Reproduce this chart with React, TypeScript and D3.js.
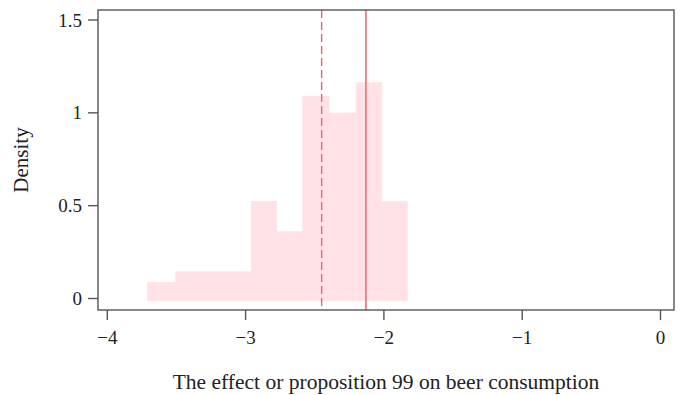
import React from "react";
import * as d3 from "d3";

const binEdges = [-3.71, -3.505, -3.32, -3.14, -2.96, -2.775, -2.587, -2.397, -2.202, -2.016, -1.831];
const densities = [0.087, 0.144, 0.144, 0.144, 0.523, 0.36, 1.09, 0.999, 1.162, 0.523];
const xTicks = [-4, -3, -2, -1, 0];
const yTicks = [0, 0.5, 1, 1.5];
const yTickLabels = ["0", "0.5", "1", "1.5"];
const meanEffect = -2.45;
const pointEffect = -2.13;
const xTitle = "The effect or proposition 99 on beer consumption";
const yTitle = "Density";

const W = 685;
const H = 395;
const frame = { left: 98, right: 674, top: 10, bottom: 310 };
const font = "'Liberation Serif', 'Times New Roman', serif";

export default function App() {
  const x = d3.scaleLinear().domain([-4, 0]).range([107.3, 660.5]);
  const y = d3.scaleLinear().domain([0, 1.5]).range([298.5, 20]);
  const fmtX = (v: number) => (v < 0 ? "\u2212" + Math.abs(v) : String(v));

  return (
    <svg
      width={W}
      height={H}
      style={{ position: "absolute", left: 0, top: 0, background: "#fff" }}
    >
      <rect x={0} y={0} width={W} height={H} fill="#fff" />
      {densities.map((d, i) => (
        <rect
          key={i}
          x={x(binEdges[i])}
          y={y(d)}
          width={x(binEdges[i + 1]) - x(binEdges[i])}
          height={y(0) - y(d) + 2.3}
          fill="#ffe1e6"
          stroke="#ffe1e6"
          strokeWidth={0.6}
        />
      ))}
      <line
        x1={x(meanEffect)}
        x2={x(meanEffect)}
        y1={frame.top}
        y2={frame.bottom}
        stroke="#e8646c"
        strokeWidth={1.4}
        strokeDasharray="8 4"
      />
      <line
        x1={x(pointEffect)}
        x2={x(pointEffect)}
        y1={frame.top}
        y2={frame.bottom}
        stroke="#f27a82"
        strokeWidth={1.8}
      />
      <rect
        x={frame.left}
        y={frame.top}
        width={frame.right - frame.left}
        height={frame.bottom - frame.top}
        fill="none"
        stroke="#555"
        strokeWidth={1.4}
      />
      {yTicks.map((t, i) => (
        <g key={"y" + i}>
          <line x1={frame.left - 10} x2={frame.left} y1={y(t)} y2={y(t)} stroke="#555" strokeWidth={1.4} />
          <text
            x={frame.left - 16}
            y={y(t)}
            dy="0.35em"
            textAnchor="end"
            fontFamily={font}
            fontSize={19}
            fill="#222"
          >
            {yTickLabels[i]}
          </text>
        </g>
      ))}
      {xTicks.map((t, i) => (
        <g key={"x" + i}>
          <line x1={x(t)} x2={x(t)} y1={frame.bottom} y2={frame.bottom + 10} stroke="#555" strokeWidth={1.4} />
          <text
            x={x(t)}
            y={344}
            textAnchor="middle"
            fontFamily={font}
            fontSize={19}
            fill="#222"
          >
            {fmtX(t)}
          </text>
        </g>
      ))}
      <text
        x={(frame.left + frame.right) / 2}
        y={389}
        textAnchor="middle"
        fontFamily={font}
        fontSize={21.5}
        fill="#222"
      >
        {xTitle}
      </text>
      <text
        transform={`translate(28, 160) rotate(-90)`}
        textAnchor="middle"
        fontFamily={font}
        fontSize={21}
        fill="#222"
      >
        {yTitle}
      </text>
    </svg>
  );
}
